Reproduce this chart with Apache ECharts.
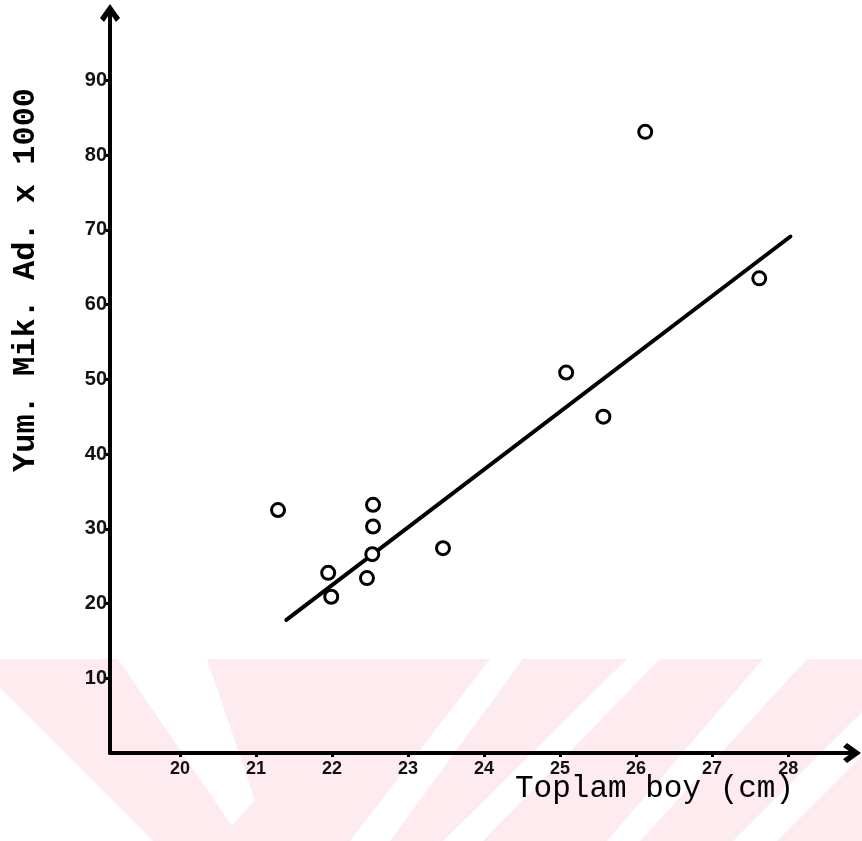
<!DOCTYPE html>
<html>
<head>
<meta charset="utf-8">
<script src="https://cdn.jsdelivr.net/npm/echarts@6/dist/echarts.min.js"></script>
<style>
  html, body { margin: 0; padding: 0; background: #fff; }
  #chart { width: 862px; height: 841px; }
</style>
</head>
<body>
<div id="chart"></div>
<script>
// fish length (cm) vs. egg count (x1000)
const lengthCm = [21.29, 22.54, 22.54, 22.53, 21.95, 22.46, 21.99, 23.46, 26.12, 27.62, 25.08, 25.57];
const eggsK    = [32.5, 33.2, 30.3, 26.6, 24.1, 23.4, 20.9, 27.4, 83.1, 63.5, 50.9, 45.0];
// fitted regression line, endpoints as drawn
const fitX = [21.4, 28.03];
const fitY = [17.8, 69.1];
const xTicks = [20, 21, 22, 23, 24, 25, 26, 27, 28];
const yTicks = [10, 20, 30, 40, 50, 60, 70, 80, 90];

const xTitle = 'Toplam boy (cm)';
const yTitle = 'Yum. Mik. Ad. x 1000';

// thick open arrow head like the hand-drawn one
const chevron = 'path://M5,0 L10,7 L8,9 L5,4.6 L2,9 L0,7 Z';
const pink = '#fdebef';
const tickFont = { fontFamily: 'Liberation Sans', fontSize: 20, fontWeight: 'bold', color: '#111' };

const chart = echarts.init(document.getElementById('chart'), null, { renderer: 'canvas' });
chart.setOption({
  backgroundColor: '#fff',
  animation: false,
  grid: { left: 110, right: 10, top: 13, bottom: 88 },
  xAxis: {
    type: 'value', min: 19.08, max: 28.84,
    splitLine: { show: false },
    axisLine: { lineStyle: { color: '#000', width: 4 }, symbol: ['none', chevron], symbolSize: [22, 18], symbolOffset: [0, 0] },
    axisTick: { customValues: xTicks, length: 4, lineStyle: { color: '#000', width: 3 } },
    axisLabel: { customValues: xTicks, margin: 7, ...tickFont, fontSize: 18 },
  },
  yAxis: {
    type: 'value', min: 0, max: 99,
    splitLine: { show: false },
    axisLine: { lineStyle: { color: '#000', width: 4 }, symbol: ['none', chevron], symbolSize: [22, 18], symbolOffset: [0, 0] },
    axisTick: { customValues: yTicks, length: 4, lineStyle: { color: '#000', width: 3 } },
    axisLabel: { customValues: yTicks, margin: 3, ...tickFont },
  },
  graphic: [
    { type: 'rect', z: -10, shape: { x: 0, y: 659, width: 862, height: 182 }, style: { fill: pink } },
    { type: 'polygon', z: -9, shape: { points: [[0, 688], [153, 841], [0, 841]] }, style: { fill: '#fff' } },
    { type: 'polygon', z: -9, shape: { points: [[118, 659], [207, 659], [255, 800], [232, 826]] }, style: { fill: '#fff' } },
    { type: 'polygon', z: -9, shape: { points: [[490, 659], [523, 659], [390, 841], [350, 841]] }, style: { fill: '#fff' } },
    { type: 'polygon', z: -9, shape: { points: [[627, 659], [660, 659], [483, 841], [443, 841]] }, style: { fill: '#fff' } },
    { type: 'polygon', z: -9, shape: { points: [[763, 659], [807, 659], [640, 841], [607, 841]] }, style: { fill: '#fff' } },
    { type: 'polygon', z: -9, shape: { points: [[915, 659], [959, 659], [777, 841], [733, 841]] }, style: { fill: '#fff' } },
    {
      type: 'text', left: 515, top: 773,
      style: { text: xTitle, font: '31px "Liberation Mono"', fill: '#000' }
    },
    {
      type: 'text', x: 10, y: 472, rotation: Math.PI / 2,
      style: { text: yTitle, font: 'bold 32px "Liberation Mono"', fill: '#000', align: 'left', verticalAlign: 'top' }
    }
  ],
  series: [
    {
      type: 'line',
      data: fitX.map((x, i) => [x, fitY[i]]),
      showSymbol: false,
      lineStyle: { color: '#000', width: 4, cap: 'round' },
      z: 3
    },
    {
      type: 'scatter',
      data: lengthCm.map((x, i) => [x, eggsK[i]]),
      symbol: 'circle', symbolSize: 13,
      itemStyle: { color: '#fff', borderColor: '#000', borderWidth: 3, opacity: 1 },
      z: 4
    }
  ]
});
</script>
</body>
</html>
